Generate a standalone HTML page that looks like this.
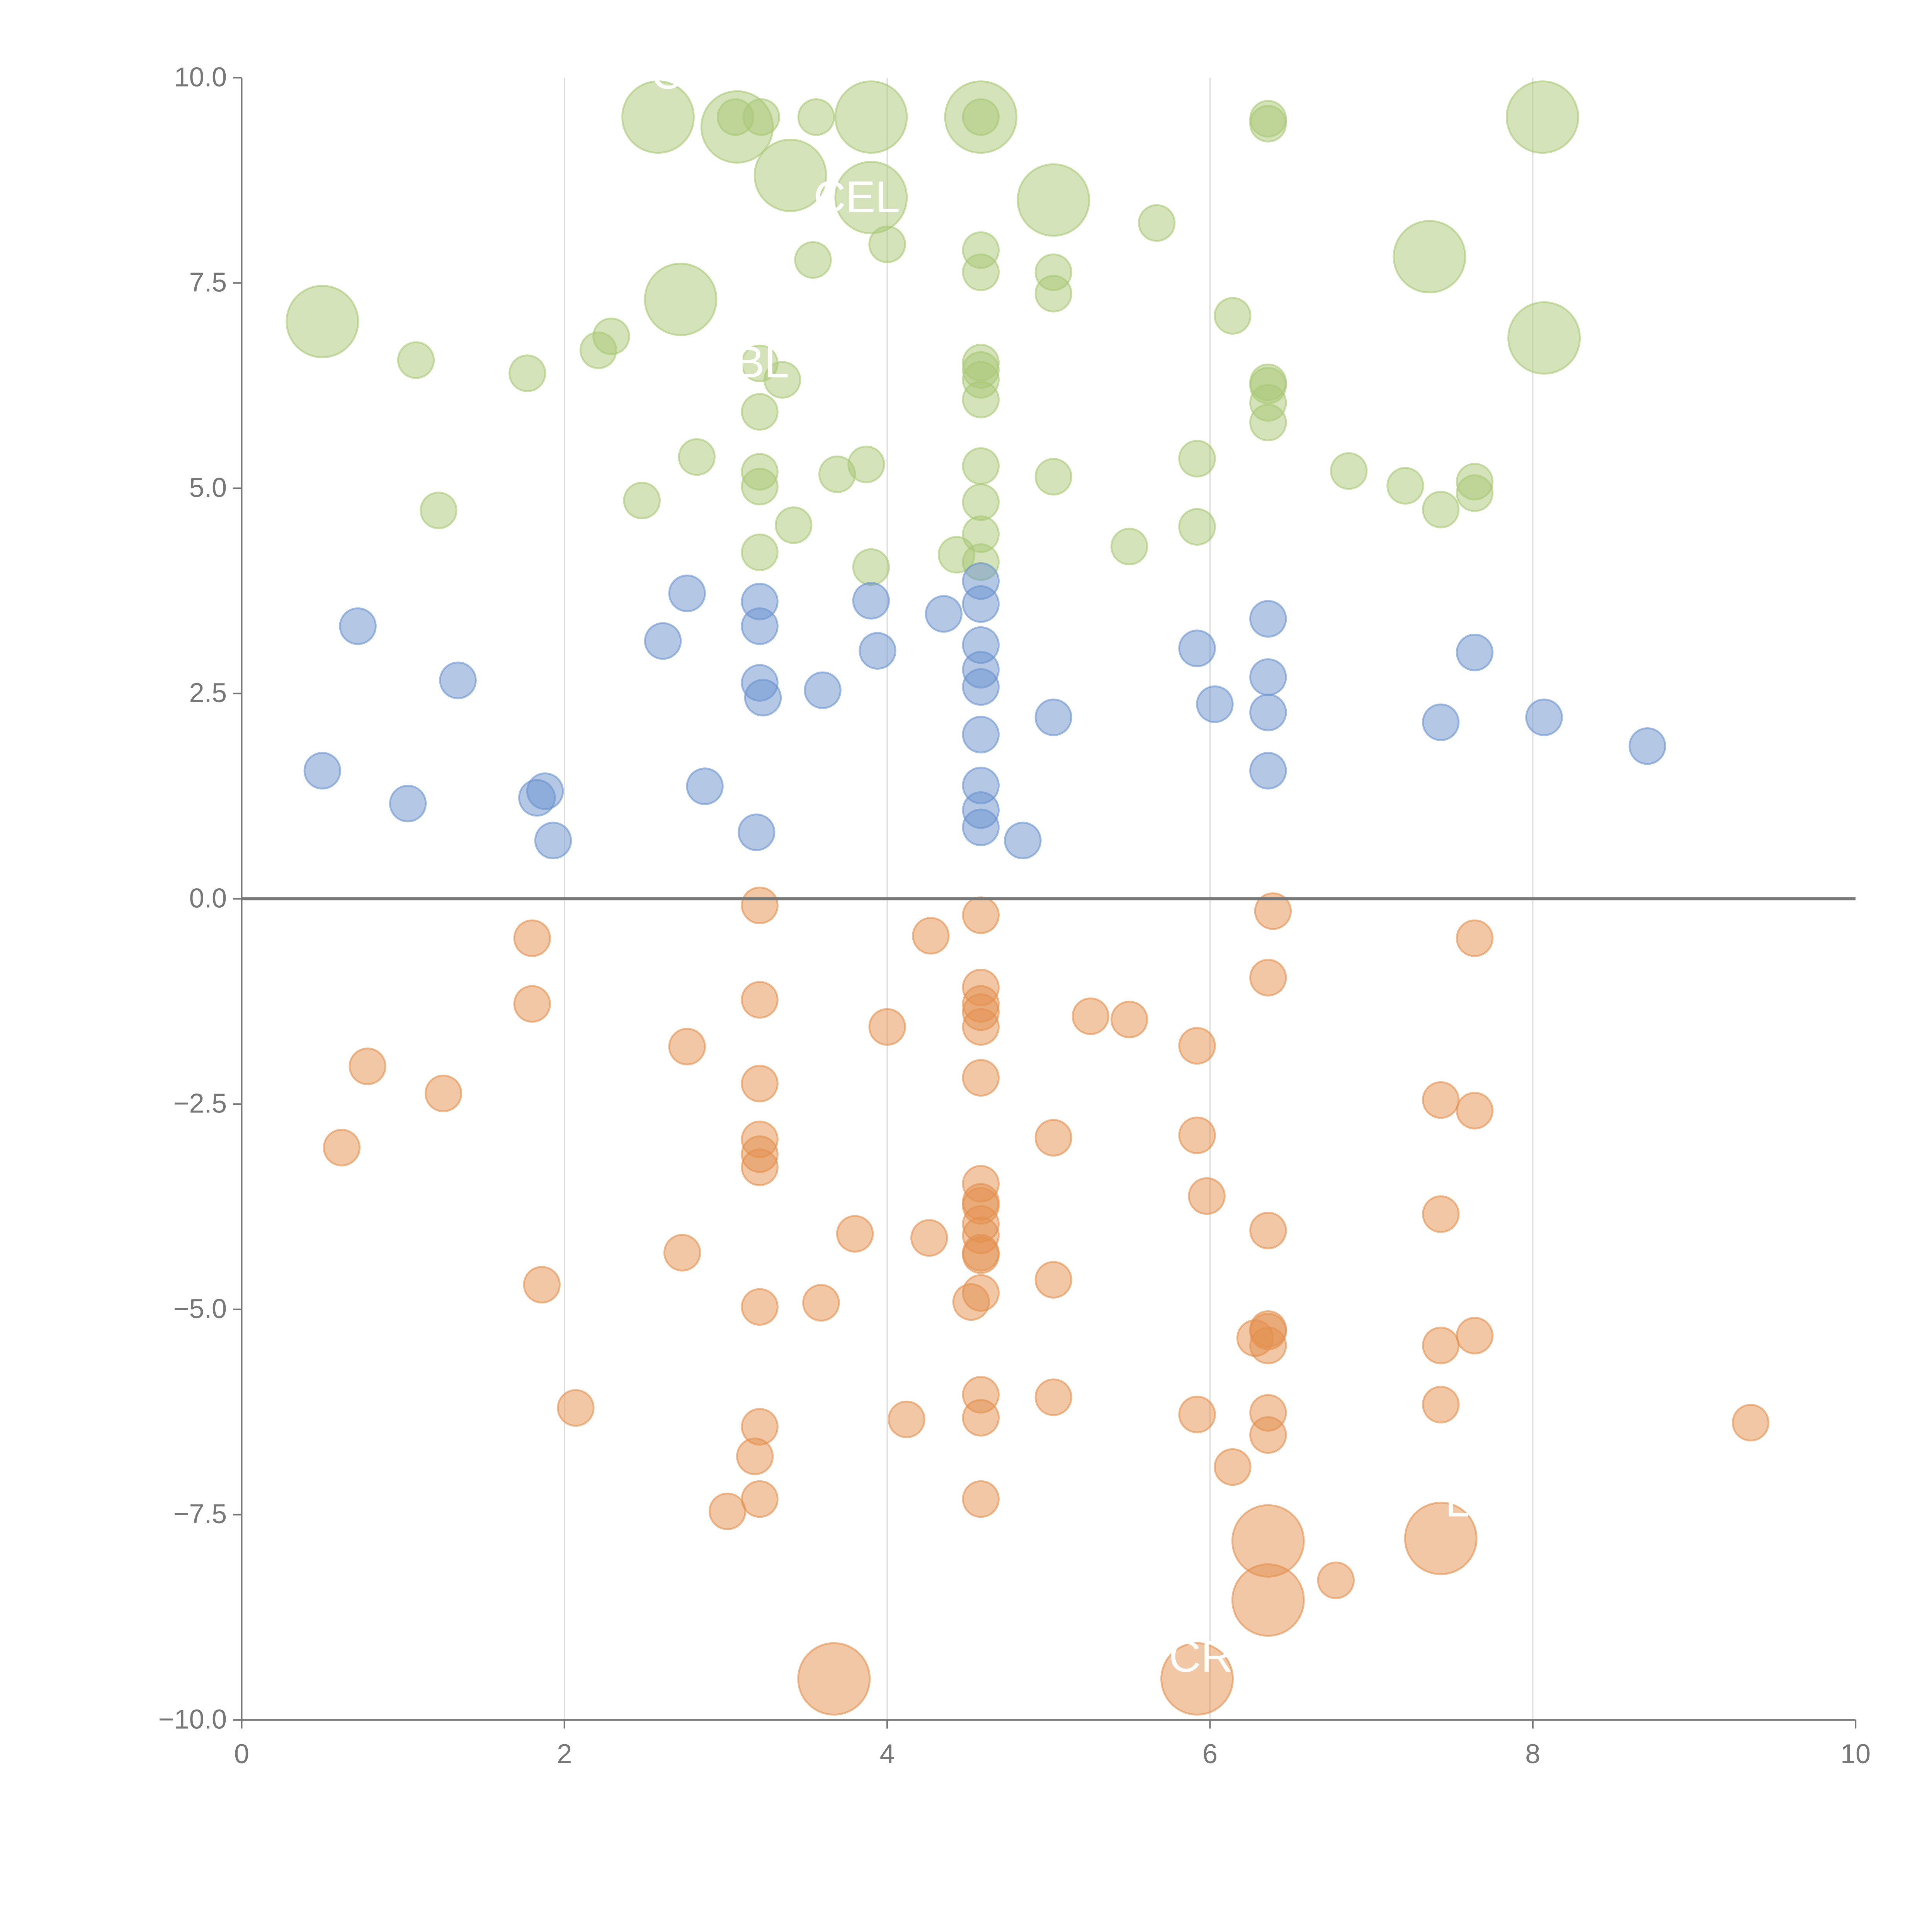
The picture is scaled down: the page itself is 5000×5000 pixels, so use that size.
<!DOCTYPE html>
<html><head><meta charset="utf-8"><style>
html,body{margin:0;padding:0;background:#fff}
svg{display:block}
text{font-family:"Liberation Sans",Arial,sans-serif}
</style></head><body>
<svg id="chart" width="5000" height="5000" viewBox="0 0 1567 1567" xmlns="http://www.w3.org/2000/svg">
<g id="grid"></g>
<g id="pts"></g>
<g id="axes"></g>
</svg>
<script>
const xTicks=[0,2,4,6,8,10];
const yTicks=[10,7.5,5,2.5,0,-2.5,-5,-7.5,-10];
const yTickLabels=["10.0","7.5","5.0","2.5","0.0","\u22122.5","\u22125.0","\u22127.5","\u221210.0"];
const greenX=[2.58,3.07,3.06,3.22,3.40,3.56,3.90,3.90,4.58,4.58,5.03,5.67,6.36,6.36,8.06,7.36,4.00,3.54,4.58,4.58,5.03,5.03,6.14,0.50,2.72,1.08,1.77,2.21,2.29,3.21,3.35,3.21,4.58,4.58,4.58,4.58,6.36,6.36,6.36,6.36,8.07,2.82,3.21,3.21,3.69,3.87,4.58,5.03,5.92,6.86,7.21,7.64,7.64,7.43,1.22,2.48,3.42,4.58,4.58,4.58,4.43,5.50,5.92,3.21,3.90];
const greenY=[9.52,9.40,9.52,9.52,8.81,9.52,9.52,8.54,9.52,9.52,8.51,8.23,9.50,9.44,9.52,7.82,7.97,7.78,7.90,7.63,7.63,7.37,7.10,7.03,7.30,6.56,6.40,6.68,6.85,6.52,6.32,5.93,6.53,6.44,6.32,6.08,6.29,6.25,6.04,5.80,6.83,5.38,5.20,5.02,5.17,5.29,5.27,5.14,5.36,5.21,5.03,5.08,4.94,4.74,4.73,4.85,4.55,4.83,4.44,4.10,4.19,4.29,4.53,4.22,4.04];
const greenBig=[1,1,0,0,1,0,1,1,1,0,1,0,0,0,1,1,0,0,0,0,0,0,0,1,1,0,0,0,0,0,0,0,0,0,0,0,0,0,0,0,1,0,0,0,0,0,0,0,0,0,0,0,0,0,0,0,0,0,0,0,0,0,0,0,0];
const blueX=[0.72,0.50,1.03,1.34,1.83,1.88,1.93,2.61,2.76,2.87,3.21,3.21,3.21,3.23,3.19,3.60,3.90,3.94,4.35,4.58,4.58,4.58,4.58,4.58,4.58,4.58,4.58,4.58,4.84,5.03,5.92,6.03,6.36,6.36,6.36,6.36,7.43,7.64,8.07,8.71];
const blueY=[3.32,1.56,1.16,2.66,1.23,1.31,0.71,3.14,3.72,1.37,3.62,3.32,2.63,2.45,0.81,2.54,3.63,3.02,3.47,3.87,3.59,3.09,2.79,2.58,2.00,1.38,1.08,0.87,0.71,2.21,3.05,2.37,3.41,2.70,2.27,1.56,2.15,3.00,2.21,1.86];
const orangeX=[3.21,1.80,1.80,0.78,1.25,0.62,3.21,2.76,3.21,3.21,3.21,3.21,4.27,4.00,4.58,4.58,4.58,4.58,4.58,4.58,5.26,5.50,5.92,5.92,5.03,6.39,6.36,7.64,7.43,7.64,7.43,5.98,6.36,4.58,4.58,4.58,4.58,4.58,4.58,4.58,3.80,4.26,2.73,1.86,3.21,3.59,4.52,4.58,5.03,6.36,6.36,6.28,6.36,7.43,7.64,2.07,3.21,3.18,3.21,3.01,4.12,4.58,4.58,4.58,5.03,5.92,6.14,6.36,6.36,7.43,9.35,6.78,6.36,6.36,7.43,3.67,5.92];
const orangeY=[-0.08,-0.48,-1.28,-2.04,-2.37,-3.03,-1.23,-1.80,-2.25,-2.93,-3.11,-3.27,-0.45,-1.56,-0.20,-1.08,-1.28,-1.38,-1.56,-2.18,-1.43,-1.47,-1.79,-2.88,-2.91,-0.15,-0.96,-0.48,-2.45,-2.58,-3.84,-3.62,-4.04,-3.47,-3.69,-3.74,-3.96,-4.10,-4.31,-4.34,-4.08,-4.13,-4.31,-4.70,-4.97,-4.92,-4.91,-4.80,-4.64,-5.24,-5.27,-5.35,-5.44,-5.44,-5.32,-6.20,-6.43,-6.79,-7.31,-7.46,-6.34,-6.04,-6.32,-7.31,-6.07,-6.28,-6.92,-6.26,-6.53,-6.16,-6.38,-8.30,-7.82,-8.54,-7.79,-9.50,-9.50];
const orangeBig=[0,0,0,0,0,0,0,0,0,0,0,0,0,0,0,0,0,0,0,0,0,0,0,0,0,0,0,0,0,0,0,0,0,0,0,0,0,0,0,0,0,0,0,0,0,0,0,0,0,0,0,0,0,0,0,0,0,0,0,0,0,0,0,0,0,0,0,0,0,0,0,0,1,1,1,1,1];

const NS="http://www.w3.org/2000/svg";
const X0=196,X1=1505,Y0=1395,Y1=63;
function sx(v){return X0+(v-0)/(10-0)*(X1-X0);}
function sy(v){return Y0-(v+10)/20*(Y0-Y1);}
function mk(tag,attrs,parent){const e=document.createElementNS(NS,tag);for(const k in attrs)e.setAttribute(k,attrs[k]);parent.appendChild(e);return e;}
const grid=document.getElementById('grid'),pts=document.getElementById('pts'),axes=document.getElementById('axes');
xTicks.forEach(t=>{if(t>0&&t<10){const l=mk('line',{x1:sx(t),x2:sx(t),y1:Y1,y2:Y0,stroke:'#dcdcdc','stroke-width':1},grid);

}});
function series(xs,ys,big,fill,name){
 xs.forEach((v,i)=>{const c=mk('circle',{cx:sx(v),cy:sy(ys[i]),r:(big&&big[i])?29:14.5,fill:fill,'fill-opacity':0.5,stroke:fill,'stroke-opacity':0.6,'stroke-width':1.5},pts);
 
 });
}
series(greenX,greenY,greenBig,'#a9c875','green-bubble');
series(blueX,blueY,null,'#6a92cd','blue-bubble');
series(orangeX,orangeY,orangeBig,'#e38f4e','orange-bubble');
[["CEL",660,172],["BL",596,306],["CR",948,1356],["C",528,72],["L",1172,1230]].forEach(a=>{const t=mk('text',{x:a[1],y:a[2],fill:'#fff','font-size':36},pts);t.textContent=a[0];

});
const z=mk('line',{x1:X0,x2:X1,y1:sy(0),y2:sy(0),stroke:'#777','stroke-width':2.5},axes);


const ya=mk('line',{x1:X0,x2:X0,y1:Y1,y2:Y0,stroke:'#777','stroke-width':1.3},axes);


const xa=mk('line',{x1:X0,x2:X1,y1:Y0,y2:Y0,stroke:'#777','stroke-width':1.3},axes);


yTicks.forEach((t,i)=>{mk('line',{x1:X0-7,x2:X0,y1:sy(t),y2:sy(t),stroke:'#777','stroke-width':1.3},axes);
 const tx=mk('text',{x:X0-12,y:sy(t)+7,'text-anchor':'end',fill:'#777','font-size':22},axes);tx.textContent=yTickLabels[i];
 
 });
xTicks.forEach(t=>{mk('line',{x1:sx(t),x2:sx(t),y1:Y0,y2:Y0+7,stroke:'#777','stroke-width':1.3},axes);
 const tx=mk('text',{x:sx(t),y:Y0+35,'text-anchor':'middle',fill:'#777','font-size':22},axes);tx.textContent=String(t);
 
 });
</script>
</body></html>
